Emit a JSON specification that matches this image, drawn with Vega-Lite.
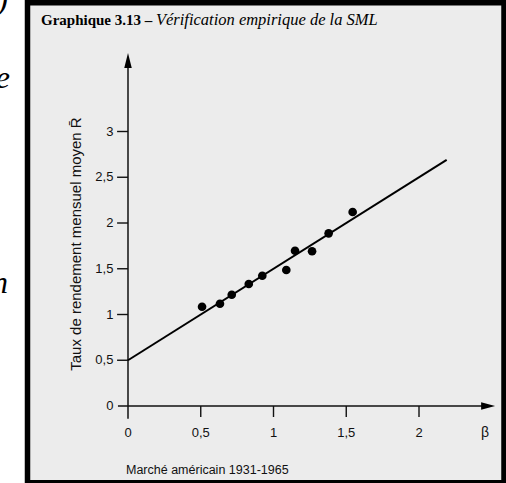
{
  "$schema": "https://vega.github.io/schema/vega-lite/v6.json",
  "width": 506,
  "height": 483,
  "padding": 0,
  "autosize": {"type": "none"},
  "background": "white",
  "config": {"view": {"stroke": null}},
  "datasets": {
    "points": [
      {"beta": 0.509, "rendement": 1.085},
      {"beta": 0.632, "rendement": 1.118},
      {"beta": 0.713, "rendement": 1.216},
      {"beta": 0.830, "rendement": 1.333},
      {"beta": 0.923, "rendement": 1.424},
      {"beta": 1.088, "rendement": 1.486},
      {"beta": 1.148, "rendement": 1.697},
      {"beta": 1.265, "rendement": 1.691},
      {"beta": 1.379, "rendement": 1.887},
      {"beta": 1.544, "rendement": 2.120}
    ],
    "sml": [
      {"beta": 0, "rendement": 0.5},
      {"beta": 2.19, "rendement": 2.69}
    ],
    "yticks": [
      {"v": 0, "label": "0"},
      {"v": 0.5, "label": "0,5"},
      {"v": 1, "label": "1"},
      {"v": 1.5, "label": "1,5"},
      {"v": 2, "label": "2"},
      {"v": 2.5, "label": "2,5"},
      {"v": 3, "label": "3"}
    ],
    "xticks": [
      {"v": 0, "label": "0"},
      {"v": 0.5, "label": "0,5"},
      {"v": 1, "label": "1"},
      {"v": 1.5, "label": "1,5"},
      {"v": 2, "label": "2"}
    ]
  },
  "encoding": {
    "x": {"type": "quantitative", "scale": {"domain": [-0.8797, 2.5979], "nice": false, "zero": false}, "axis": null},
    "y": {"type": "quantitative", "scale": {"domain": [-0.8415, 4.4372], "nice": false, "zero": false}, "axis": null}
  },
  "layer": [
    {
      "data": {"values": [{}]},
      "mark": {"type": "rect", "fill": "#ececec", "stroke": "#000000", "strokeWidth": 5.5},
      "encoding": {
        "x": {"datum": -0.6907, "type": "quantitative"},
        "x2": {"datum": 2.5842},
        "y": {"datum": 4.406, "type": "quantitative"},
        "y2": {"datum": -0.8393}
      }
    },
    {
      "data": {"values": [{}]},
      "mark": {"type": "rule", "color": "#111111", "strokeWidth": 1.5},
      "encoding": {
        "x": {"datum": 0, "type": "quantitative"},
        "y": {"datum": -0.14, "type": "quantitative"},
        "y2": {"datum": 3.79}
      }
    },
    {
      "data": {"values": [{}]},
      "mark": {"type": "rule", "color": "#111111", "strokeWidth": 1.5},
      "encoding": {
        "y": {"datum": 0, "type": "quantitative"},
        "x": {"datum": -0.069, "type": "quantitative"},
        "x2": {"datum": 2.47}
      }
    },
    {
      "data": {"values": [{}]},
      "mark": {"type": "point", "shape": "M-0.5,1L0,-1L0.5,1Z", "filled": true, "color": "#000000", "opacity": 1, "size": 225},
      "encoding": {
        "x": {"datum": 0, "type": "quantitative"},
        "y": {"datum": 3.775, "type": "quantitative"}
      }
    },
    {
      "data": {"values": [{}]},
      "mark": {"type": "point", "shape": "M-1,-0.55L1,0L-1,0.55Z", "filled": true, "color": "#000000", "opacity": 1, "size": 196},
      "encoding": {
        "x": {"datum": 2.475, "type": "quantitative"},
        "y": {"datum": 0, "type": "quantitative"}
      }
    },
    {
      "data": {"name": "yticks"},
      "transform": [{"filter": "datum.v > 0"}],
      "mark": {"type": "rule", "color": "#111111", "strokeWidth": 1.4},
      "encoding": {
        "y": {"field": "v", "type": "quantitative"},
        "x": {"datum": -0.075, "type": "quantitative"},
        "x2": {"datum": 0}
      }
    },
    {
      "data": {"name": "yticks"},
      "mark": {"type": "text", "align": "right", "baseline": "middle", "font": "Liberation Sans", "fontSize": 13, "color": "#111111"},
      "encoding": {
        "y": {"field": "v", "type": "quantitative"},
        "x": {"datum": -0.1, "type": "quantitative"},
        "text": {"field": "label"}
      }
    },
    {
      "data": {"name": "xticks"},
      "transform": [{"filter": "datum.v > 0"}],
      "mark": {"type": "rule", "color": "#111111", "strokeWidth": 1.4},
      "encoding": {
        "x": {"field": "v", "type": "quantitative"},
        "y": {"datum": -0.12, "type": "quantitative"},
        "y2": {"datum": 0}
      }
    },
    {
      "data": {"name": "xticks"},
      "mark": {"type": "text", "align": "center", "baseline": "middle", "font": "Liberation Sans", "fontSize": 13, "color": "#111111"},
      "encoding": {
        "x": {"field": "v", "type": "quantitative"},
        "y": {"datum": -0.3, "type": "quantitative"},
        "text": {"field": "label"}
      }
    },
    {
      "data": {"values": [{}]},
      "mark": {"type": "text", "align": "center", "baseline": "middle", "font": "Liberation Sans", "fontSize": 14, "color": "#111111", "text": "β"},
      "encoding": {
        "x": {"datum": 2.454, "type": "quantitative"},
        "y": {"datum": -0.3, "type": "quantitative"}
      }
    },
    {
      "data": {"values": [{}]},
      "mark": {"type": "text", "align": "left", "baseline": "middle", "font": "Liberation Sans", "fontSize": 12.5, "color": "#111111", "text": "Marché américain 1931-1965"},
      "encoding": {
        "x": {"datum": -0.0137, "type": "quantitative"},
        "y": {"datum": -0.70, "type": "quantitative"}
      }
    },
    {
      "data": {"values": [{}]},
      "mark": {"type": "text", "align": "center", "baseline": "middle", "angle": 270, "font": "Liberation Sans", "fontSize": 15, "color": "#111111", "text": "Taux de rendement mensuel moyen R̄"},
      "encoding": {
        "x": {"datum": -0.357, "type": "quantitative"},
        "y": {"datum": 1.77, "type": "quantitative"}
      }
    },
    {
      "data": {"name": "sml"},
      "mark": {"type": "line", "color": "#000000", "strokeWidth": 2},
      "encoding": {
        "x": {"field": "beta", "type": "quantitative"},
        "y": {"field": "rendement", "type": "quantitative"}
      }
    },
    {
      "data": {"name": "points"},
      "mark": {"type": "circle", "color": "#000000", "opacity": 1, "size": 75},
      "encoding": {
        "x": {"field": "beta", "type": "quantitative"},
        "y": {"field": "rendement", "type": "quantitative"}
      }
    },
    {
      "data": {"values": [{}]},
      "mark": {"type": "text", "align": "left", "baseline": "alphabetic", "font": "Liberation Serif", "fontWeight": "bold", "fontSize": 15, "color": "#000000", "text": "Graphique 3.13 –"},
      "encoding": {
        "x": {"datum": -0.598, "type": "quantitative"},
        "y": {"datum": 4.164, "type": "quantitative"}
      }
    },
    {
      "data": {"values": [{}]},
      "mark": {"type": "text", "align": "left", "baseline": "alphabetic", "font": "Liberation Serif", "fontStyle": "italic", "fontSize": 16.5, "color": "#000000", "text": "Vérification empirique de la SML"},
      "encoding": {
        "x": {"datum": 0.192, "type": "quantitative"},
        "y": {"datum": 4.164, "type": "quantitative"}
      }
    },
    {
      "data": {"values": [{"t": ")", "bx": -0.825, "by": 4.33}, {"t": "e", "bx": -0.811, "by": 3.475}, {"t": "n", "bx": -0.825, "by": 1.235}]},
      "mark": {"type": "text", "align": "right", "baseline": "alphabetic", "font": "Liberation Serif", "fontStyle": "italic", "fontSize": 32, "color": "#000000", "clip": true},
      "encoding": {
        "x": {"field": "bx", "type": "quantitative"},
        "y": {"field": "by", "type": "quantitative"},
        "text": {"field": "t"}
      }
    }
  ]
}
